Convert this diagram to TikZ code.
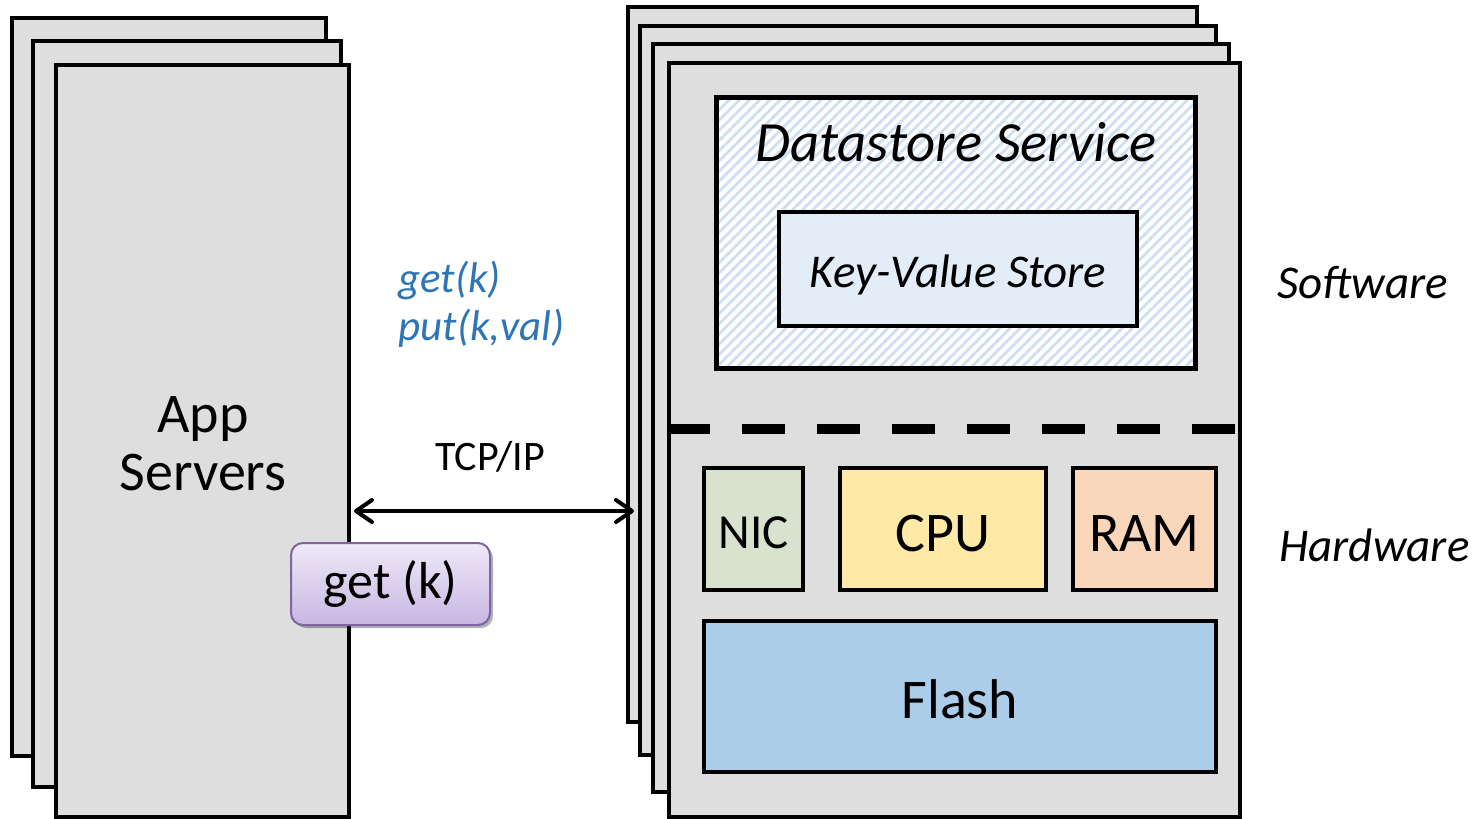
\documentclass[tikz,border=0pt]{standalone}
\usepackage{fontspec}
\setmainfont{Carlito}
\usetikzlibrary{arrows.meta,fit,shadows,patterns.meta}

\definecolor{panel}{RGB}{222,222,222}
\definecolor{hatch}{RGB}{206,223,242}
\definecolor{kvfill}{RGB}{227,237,248}
\definecolor{nicfill}{RGB}{215,227,207}
\definecolor{cpufill}{RGB}{255,233,166}
\definecolor{ramfill}{RGB}{250,215,186}
\definecolor{flashfill}{RGB}{171,205,234}
\definecolor{opblue}{RGB}{46,117,182}
\definecolor{tagtop}{RGB}{239,233,248}
\definecolor{tagbot}{RGB}{200,182,226}
\definecolor{tagedge}{RGB}{128,100,162}

\begin{document}
\begin{tikzpicture}[x=0.5pt,y=-0.5pt,
  card/.style={draw=black, line width=2pt, fill=panel, inner sep=0pt},
  part/.style={draw=black, line width=2pt, inner sep=0pt},
  label/.style={inner sep=0pt, text=black},
  big/.style={font=\fontsize{28pt}{29pt}\selectfont},
  mid/.style={font=\fontsize{23.5pt}{25pt}\selectfont\itshape},
  op/.style={inner sep=0pt, text=opblue, font=\fontsize{21.5pt}{24pt}\selectfont\itshape},
  link/.style={line width=2pt, {Straight Barb[length=8pt,width=11pt,round]}-{Straight Barb[length=8pt,width=11pt,round]}},
  divider/.style={line width=5pt, dash pattern=on 21.7pt off 15.8pt}
]
\useasboundingbox (0,0) rectangle (1479,819);
\clip (0,0) rectangle (1479,819);

% application server stack
\node[card, fit={(12,18) (326,756)}] (app1) {};
\node[card, fit={(33,41) (341,787)}] (app2) {};
\node[card, fit={(56,65) (349,817)}] (app3) {};
\node[label, big, align=center] (appname) at (203,444) {App\\Servers};

% request tag
\node[draw=tagedge, line width=1pt, rounded corners=6pt, top color=tagtop, bottom color=tagbot,
      drop shadow={shadow xshift=1.5pt, shadow yshift=-1.5pt, opacity=0.3, fill=black},
      inner sep=0pt, fit={(291,543) (490,625)}] (tag) {};
\node[label, font=\fontsize{26pt}{27pt}\selectfont] (tagtext) at (tag.center) {get (k)};

% datastore server stack
\node[card, fit={(628,7) (1197,722)}] (dsA) {};
\node[card, fit={(640,26) (1216,755)}] (dsB) {};
\node[card, fit={(653,44) (1229,792)}] (dsC) {};
\node[card, fit={(669,63) (1240,817)}] (dsD) {};

% software layer
\node[part, line width=2.5pt, preaction={fill=white},
      pattern={Lines[angle=45,distance=3.6pt,line width=1.4pt]}, pattern color=hatch,
      fit={(716,97) (1195,368)}] (svc) {};
\node[label, font=\fontsize{28.4pt}{29pt}\selectfont\itshape, anchor=base] (svcname) at (956,161) {Datastore Service};
\node[part, fill=kvfill, fit={(779,212) (1137,326)}] (kv) {};
\node[label, mid, anchor=base] (kvname) at (958,287) {Key-Value Store};

% software / hardware boundary
\draw[divider] (dsD.west |- 0,429) -- (dsD.east |- 0,429);

% hardware layer
\node[part, fill=nicfill, fit={(704,468) (803,590)}] (nic) {};
\node[part, fill=cpufill, fit={(840,468) (1046,590)}] (cpu) {};
\node[part, fill=ramfill, fit={(1073,468) (1216,590)}] (ram) {};
\node[part, fill=flashfill, fit={(704,621) (1216,772)}] (flash) {};
\node[label, font=\fontsize{24.5pt}{26pt}\selectfont, anchor=base] (nicname) at (nic.center |- 0,548) {NIC};
\node[label, big, anchor=base] (cpuname) at (cpu.center |- 0,551) {CPU};
\node[label, big, anchor=base] (ramname) at (ram.center |- 0,551) {RAM};
\node[label, big, anchor=base] (flashname) at (flash.center |- 0,718) {Flash};

% layer captions
\node[label, mid, anchor=base west] (sw) at (1277,298) {Software};
\node[label, mid, anchor=base west] (hw) at (1279,561) {Hardware};

% network link and operations
\node[label, font=\fontsize{21pt}{22pt}\selectfont, anchor=base] (tcp) at (490,470) {TCP/IP};
\draw[link] ([xshift=1.5pt]app3.east |- 0,511) -- ([xshift=4pt]dsA.west |- 0,511);
\node[op, anchor=base west] (opget) at (398,292) {get(k)};
\node[op, anchor=base west] (opput) at (398,340) {put(k,val)};
\end{tikzpicture}
\end{document}
